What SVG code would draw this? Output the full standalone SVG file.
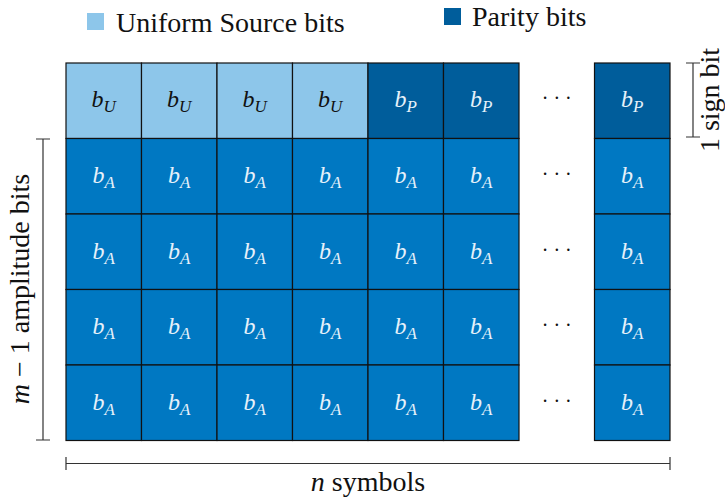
<svg xmlns="http://www.w3.org/2000/svg" width="725" height="498" viewBox="0 0 725 498">
<g id="legend" fill="#111">
<rect x="87" y="13" width="17" height="17" fill="#8dc6ea"/>
<text x="116" y="32" font-family="Liberation Serif" font-size="28">Uniform Source bits</text>
<rect x="444" y="8" width="17" height="17" fill="#005d9b"/>
<text x="472" y="26" font-family="Liberation Serif" font-size="28">Parity bits</text>
</g>
<g id="grid">
<g id="row0" stroke="#111" stroke-width="1.2">
<rect x="66" y="63" width="75.5" height="75.5" fill="#8dc6ea"/>
<rect x="141.5" y="63" width="75.5" height="75.5" fill="#8dc6ea"/>
<rect x="217" y="63" width="75.5" height="75.5" fill="#8dc6ea"/>
<rect x="292.5" y="63" width="75.5" height="75.5" fill="#8dc6ea"/>
<rect x="368" y="63" width="75.5" height="75.5" fill="#005d9b"/>
<rect x="443.5" y="63" width="75.5" height="75.5" fill="#005d9b"/>
<rect x="594.5" y="63" width="75.5" height="75.5" fill="#005d9b"/>
</g>
<g id="row0labels" text-anchor="middle" font-style="italic" font-size="24">
<text x="103.75" y="107" fill="#111" font-family="Liberation Serif">b<tspan font-size="17" dy="5">U</tspan></text>
<text x="179.25" y="107" fill="#111" font-family="Liberation Serif">b<tspan font-size="17" dy="5">U</tspan></text>
<text x="254.75" y="107" fill="#111" font-family="Liberation Serif">b<tspan font-size="17" dy="5">U</tspan></text>
<text x="330.25" y="107" fill="#111" font-family="Liberation Serif">b<tspan font-size="17" dy="5">U</tspan></text>
<text x="405.75" y="107" fill="#e6f1fa" font-family="Liberation Serif">b<tspan font-size="17" dy="5">P</tspan></text>
<text x="481.25" y="107" fill="#e6f1fa" font-family="Liberation Serif">b<tspan font-size="17" dy="5">P</tspan></text>
<text x="632.25" y="107" fill="#e6f1fa" font-family="Liberation Serif">b<tspan font-size="17" dy="5">P</tspan></text>
</g>
<g id="rowsA" stroke="#111" stroke-width="1.2" fill="#0078c2">
<rect x="66" y="138.5" width="75.5" height="75.5"/><rect x="141.5" y="138.5" width="75.5" height="75.5"/><rect x="217" y="138.5" width="75.5" height="75.5"/><rect x="292.5" y="138.5" width="75.5" height="75.5"/><rect x="368" y="138.5" width="75.5" height="75.5"/><rect x="443.5" y="138.5" width="75.5" height="75.5"/><rect x="594.5" y="138.5" width="75.5" height="75.5"/>
<rect x="66" y="214" width="75.5" height="75.5"/><rect x="141.5" y="214" width="75.5" height="75.5"/><rect x="217" y="214" width="75.5" height="75.5"/><rect x="292.5" y="214" width="75.5" height="75.5"/><rect x="368" y="214" width="75.5" height="75.5"/><rect x="443.5" y="214" width="75.5" height="75.5"/><rect x="594.5" y="214" width="75.5" height="75.5"/>
<rect x="66" y="289.5" width="75.5" height="75.5"/><rect x="141.5" y="289.5" width="75.5" height="75.5"/><rect x="217" y="289.5" width="75.5" height="75.5"/><rect x="292.5" y="289.5" width="75.5" height="75.5"/><rect x="368" y="289.5" width="75.5" height="75.5"/><rect x="443.5" y="289.5" width="75.5" height="75.5"/><rect x="594.5" y="289.5" width="75.5" height="75.5"/>
<rect x="66" y="365" width="75.5" height="75.5"/><rect x="141.5" y="365" width="75.5" height="75.5"/><rect x="217" y="365" width="75.5" height="75.5"/><rect x="292.5" y="365" width="75.5" height="75.5"/><rect x="368" y="365" width="75.5" height="75.5"/><rect x="443.5" y="365" width="75.5" height="75.5"/><rect x="594.5" y="365" width="75.5" height="75.5"/>
</g>
<g id="labelsA" text-anchor="middle" font-style="italic" font-size="24" fill="#e6f1fa">
<text x="103.75" y="183" font-family="Liberation Serif">b<tspan font-size="17" dy="5">A</tspan></text><text x="179.25" y="183" font-family="Liberation Serif">b<tspan font-size="17" dy="5">A</tspan></text><text x="254.75" y="183" font-family="Liberation Serif">b<tspan font-size="17" dy="5">A</tspan></text><text x="330.25" y="183" font-family="Liberation Serif">b<tspan font-size="17" dy="5">A</tspan></text><text x="405.75" y="183" font-family="Liberation Serif">b<tspan font-size="17" dy="5">A</tspan></text><text x="481.25" y="183" font-family="Liberation Serif">b<tspan font-size="17" dy="5">A</tspan></text><text x="632.25" y="183" font-family="Liberation Serif">b<tspan font-size="17" dy="5">A</tspan></text>
<text x="103.75" y="258.5" font-family="Liberation Serif">b<tspan font-size="17" dy="5">A</tspan></text><text x="179.25" y="258.5" font-family="Liberation Serif">b<tspan font-size="17" dy="5">A</tspan></text><text x="254.75" y="258.5" font-family="Liberation Serif">b<tspan font-size="17" dy="5">A</tspan></text><text x="330.25" y="258.5" font-family="Liberation Serif">b<tspan font-size="17" dy="5">A</tspan></text><text x="405.75" y="258.5" font-family="Liberation Serif">b<tspan font-size="17" dy="5">A</tspan></text><text x="481.25" y="258.5" font-family="Liberation Serif">b<tspan font-size="17" dy="5">A</tspan></text><text x="632.25" y="258.5" font-family="Liberation Serif">b<tspan font-size="17" dy="5">A</tspan></text>
<text x="103.75" y="334" font-family="Liberation Serif">b<tspan font-size="17" dy="5">A</tspan></text><text x="179.25" y="334" font-family="Liberation Serif">b<tspan font-size="17" dy="5">A</tspan></text><text x="254.75" y="334" font-family="Liberation Serif">b<tspan font-size="17" dy="5">A</tspan></text><text x="330.25" y="334" font-family="Liberation Serif">b<tspan font-size="17" dy="5">A</tspan></text><text x="405.75" y="334" font-family="Liberation Serif">b<tspan font-size="17" dy="5">A</tspan></text><text x="481.25" y="334" font-family="Liberation Serif">b<tspan font-size="17" dy="5">A</tspan></text><text x="632.25" y="334" font-family="Liberation Serif">b<tspan font-size="17" dy="5">A</tspan></text>
<text x="103.75" y="409.5" font-family="Liberation Serif">b<tspan font-size="17" dy="5">A</tspan></text><text x="179.25" y="409.5" font-family="Liberation Serif">b<tspan font-size="17" dy="5">A</tspan></text><text x="254.75" y="409.5" font-family="Liberation Serif">b<tspan font-size="17" dy="5">A</tspan></text><text x="330.25" y="409.5" font-family="Liberation Serif">b<tspan font-size="17" dy="5">A</tspan></text><text x="405.75" y="409.5" font-family="Liberation Serif">b<tspan font-size="17" dy="5">A</tspan></text><text x="481.25" y="409.5" font-family="Liberation Serif">b<tspan font-size="17" dy="5">A</tspan></text><text x="632.25" y="409.5" font-family="Liberation Serif">b<tspan font-size="17" dy="5">A</tspan></text>
</g>
<g id="dots" text-anchor="middle" font-size="20" fill="#111">
<text x="556.75" y="105" font-family="Liberation Serif">· · ·</text>
<text x="556.75" y="181" font-family="Liberation Serif">· · ·</text>
<text x="556.75" y="256.5" font-family="Liberation Serif">· · ·</text>
<text x="556.75" y="332" font-family="Liberation Serif">· · ·</text>
<text x="556.75" y="407.5" font-family="Liberation Serif">· · ·</text>
</g>
</g>
<g id="connectors" stroke="#333" stroke-width="1.2" fill="none">
<path d="M36 139H50M43 139V440M36 440H50"/>
<path d="M686 63H700M693 63V137M686 137H700"/>
<path d="M66 457V470M66 463.5H670M670 457V470"/>
</g>
<g id="labels" font-size="28" fill="#111" text-anchor="middle">
<text transform="translate(29 289) rotate(-90)" font-family="Liberation Serif"><tspan font-style="italic">m</tspan> − 1 amplitude bits</text>
<text transform="translate(719 100) rotate(-90)" font-family="Liberation Serif">1 sign bit</text>
<text x="368" y="491" font-family="Liberation Serif"><tspan font-style="italic">n</tspan> symbols</text>
</g>
</svg>
